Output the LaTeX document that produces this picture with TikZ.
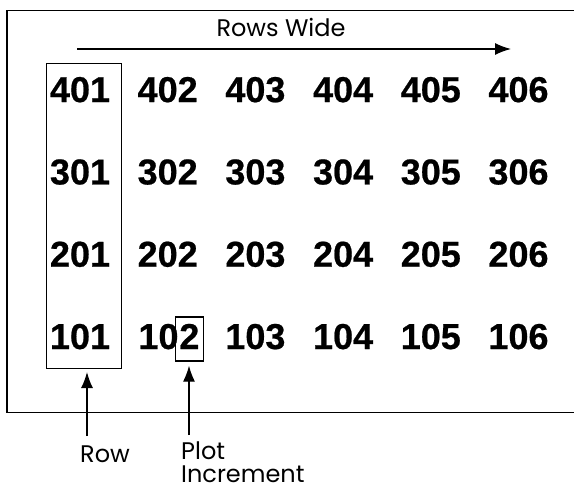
\documentclass[tikz,border=0pt]{standalone}
\usepackage{fontspec}
\setmainfont{Liberation Sans}
\newfontfamily\lblfont{Poppins}
\usetikzlibrary{arrows.meta}

\tikzset{
  num/.style={font=\fontsize{36}{36}\selectfont\bfseries\addfontfeature{FakeBold=0.6},
    inner sep=0pt,anchor=base},
  lbl/.style={font=\lblfont\fontsize{24}{23}\selectfont,inner sep=0pt},
  line/.style={line width=1.3pt},
  tip/.style={line width=1.3pt,-{Latex[length=16pt,width=12pt]}}
}

\begin{document}
\begin{tikzpicture}[x=1pt,y=-1pt]
  \useasboundingbox (0,0) rectangle (574,487);
  \clip (0,0) rectangle (574,487);
  % outer frame, right side runs off the page
  \draw[line] (590,10.5) -| (7,412.5) -- (590,412.5);

  \node[lbl,anchor=base] (rowswide) at (281,36.5) {Rows Wide};
  \coordinate (widestart) at (77,49);
  \coordinate (wideend) at (511,49);
  \draw[tip] (widestart) -- (wideend);

  % plot numbers
  \foreach \r in {1,...,4}
    \foreach \c in {1,...,6}{
      \ifnum\r\c=12\else
        \node[num] (n\r0\c) at ({80+87.7*(\c-1)},{349-82.3*(\r-1)}) {\r0\c};
      \fi
    }
  \node[num,anchor=base east] (n102) at (178.7,349) {10};
  \node[num,anchor=base west,draw,line width=1.3pt,inner xsep=4pt,inner ysep=0pt,
    text height=32pt,text depth=12pt] (inc) at ([xshift=-4pt]n102.base east) {2};

  % box round the first column
  \coordinate (boxtl) at ([xshift=-3.5pt,yshift=13pt]n401.north west);
  \coordinate (boxbr) at ([xshift=11pt,yshift=-19pt]n101.south east);
  \draw[line] (boxtl) rectangle (boxbr);

  \node[lbl,anchor=base west] (rowlbl) at (80,462) {Row};
  \node[lbl,anchor=north west,align=left] (plotlbl) at (181,442) {Plot\\Increment};
  \coordinate (rowtail) at ([xshift=7pt,yshift=9pt]rowlbl.north west);
  \coordinate (plottail) at ([xshift=8pt,yshift=7pt]plotlbl.north west);
  \draw[tip,shorten >=3.5pt] (rowtail) -- (rowtail |- boxbr);
  \draw[tip,shorten >=4pt] (plottail) -- (plottail |- inc.south);
\end{tikzpicture}
\end{document}
